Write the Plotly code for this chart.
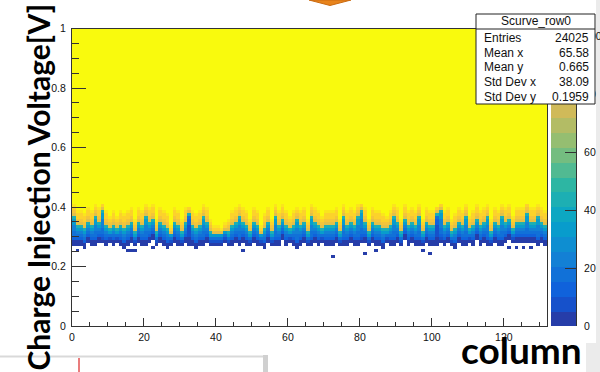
import numpy as np
import plotly.graph_objects as go

W, H = 600, 372

# ---------------------------------------------------------------- data ----
n_columns = 132          # pixel columns on the x axis
n_vbins = 100            # 0.01 V per bin, 0 .. 1 V
v_max = 1.0
full_count = 100         # hits per step once the pixel fires every time
z_max = 102.8
first_profile_bin = 22   # each profile string starts at 0.22 V

# hit counts per character of a profile ('.' = no hits)
count_of = {'a': 3, 'b': 8, 'c': 13, 'd': 18, 'e': 25, 'f': 33, 'g': 42,
            'h': 52, 'i': 62, 'j': 78, 'k': 86, 'l': 91, 'm': 96, 'Y': 100}

# s-curve transition per column, bins 0.22 V .. 0.40 V (above: full_count)
column_profiles = [
    ".....aacddeeffgjklm", "...a.aacdefgjkllmYY", ".....aacdefgjkllmYY", "....aacdefgjkllmYYY",
    "......aacdefgjkllmY", ".....aacdefgjkllmYY", ".....aacddeeffgjklm", "......aacdefgjkllmY",
    "......abcddeeeffgjl", ".....aacdefgjkllmYY", "......abdfgjklmYYYY", ".....aacdefgjkllmYY",
    "......abdfgjklmYYYY", ".....aacdefgjkllmYY", "....aacdefgjkllmYYY", "...a.aacdefgjkllmYY",
    "...a..aacdefgjkllmY", "...a.abdfgjklmYYYYY", "......aacdefgjkllmY", ".....aacdefgjkllmYY",
    ".....aacddeeffgjklm", "......aacdefgjkllmY", "....a..aacdefgjkllm", ".....abdfgjklmYYYYY",
    "......aacdefgjkllmY", ".....aacdefgjkllmYY", "....aacdefgjkllmYYY", ".....abdfjlmYYYYYYY",
    "......aacdefgjkllmY", ".....aacdefgjkllmYY", ".....abdfgjklmYYYYY", "......aacdefgjkllmY",
    ".....aaabbbbccdgjlY", ".....aacdefgjkllmYY", "....aacdefgjkllmYYY", ".....aacdefgjkllmYY",
    ".....aacddeeffgjklm", "......aacdefgjkllmY", ".....abdfgjklmYYYYY", ".....abdfjlmYYYYYYY",
    ".....abdfjlmYYYYYYY", ".....abdfjmYYYYYYYY", "......abdfjlmYYYYYY", ".....abdfgjklmYYYYY",
    ".....aacdefgjkllmYY", "......aacdefgjkllmY", ".....aacddeeffgjklm", "...a..aacdefgjkllmY",
    ".....aacdefgjkllmYY", ".....abdfgjklmYYYYY", "......aacdefgjkllmY", ".....aacdefgjkllmYY",
    ".....abdfjlmYYYYYYY", "....aacdefgjkllmYYY", "......aacdefgjkllmY", ".....abdfgjklmYYYYY",
    ".....aacddeeffgjklm", ".....aacdefgjkllmYY", ".......aacdefgjkllm", ".....aacdefgjkllmYY",
    "......abdfgjklmYYYY", ".....aacdefgjkllmYY", "....aacddeeffgjklmY", ".....aacdefgjkllmYY",
    "......aacdefgjkllmY", ".....abdfgjklmYYYYY", ".....aacddeeffgjklm", "......aacdefgjkllmY",
    ".....aacdefgjkllmYY", "......abdfgjklmYYYY", ".....aacdefgjkllmYY", ".....aacdefgjkllmYY",
    ".a...aacdefgjkllmYY", "......aacdefgjkllmY", ".....abdfgjklmYYYYY", ".....aacddeeffgjklm",
    ".....aacdefgjkllmYY", "......aacdefgjkllmY", ".....aacdefgjkllmYY", ".....aacddeeffgjklm",
    "......abcddeeeffgjl", "..a...aacdefgjkllmY", ".....abdfgjklmYYYYY", "......aacdefgjkllmY",
    "...a.aacdefgjkllmYY", ".....aacdefgjkllmYY", "....aacdefgjkllmYYY", "......abdfgjklmYYYY",
    ".....aacdefgjkllmYY", ".....aacddeeffgjklm", "......aacdefgjkllmY", ".....abdfgjklmYYYYY",
    ".......aacdefgjkllm", ".....aacdefgjkllmYY", "......aacdefgjkllmY", ".....aacdefgjkllmYY",
    ".....aacddeeffgjklm", "...a.abdfgjklmYYYYY", "......aacdefgjkllmY", "..a..aacdefgjkllmYY",
    ".....aacdefgjkllmYY", ".....aaabbbbccdgjlY", "......abcddeeeffgjl", ".....aacdefgjkllmYY",
    "......aacdefgjkllmY", ".....abdfgjklmYYYYY", "....aacdefgjkllmYYY", "......aacdefgjkllmY",
    ".....aacdefgjkllmYY", ".....aacddeeffgjklm", "......abdfgjklmYYYY", ".....aacdefgjkllmYY",
    ".......aacdefgjkllm", ".....aacdefgjkllmYY", "......aacdefgjkllmY", ".....aacddeeffgjklm",
    ".....abdfgjklmYYYYY", "......aacdefgjkllmY", ".....aacdefgjkllmYY", ".....aacddeeffgjklm",
    "......aacdefgjkllmY", "....a..aacdefgjkllm", "......abdfgjklmYYYY", "....a.aacdefgjkllmY",
    "......aacdefgjkllmY", "....a.aacdefgjkllmY", "......aacddeeffgjkl", "....a.aacdefgjkllmY",
    "......aacdefgjkllmY", ".....aacddeeffgjklm", "......aacdefgjkllmY", ".....aacdefgjkllmYY",
]

x_ticks = [0, 20, 40, 60, 80, 100, 120]
y_ticks = [0, 0.2, 0.4, 0.6, 0.8, 1.0]
z_ticks = [0, 20, 40, 60, 80, 100]

stats_title = "Scurve_row0"
stats_labels = ["Entries", "Mean x", "Mean y", "Std Dev x", "Std Dev y"]
stats_values = ["24025", "65.58", "0.665", "38.09", "0.1959"]

y_title = "Charge Injection Voltage[V]"
x_title = "column"

# ------------------------------------------------------- histogram grid ---
z = np.full((n_vbins, n_columns), np.nan)
for col, prof in enumerate(column_profiles):
    for i, ch in enumerate(prof):
        if ch in count_of:
            z[first_profile_bin + i, col] = count_of[ch]
    z[first_profile_bin + len(prof):, col] = full_count

x_centers = np.arange(n_columns) + 0.5
y_centers = (np.arange(n_vbins) + 0.5) * v_max / n_vbins

# ------------------------------------------- ROOT "bird" palette, 20 levels
bird_stops = [0.0, 0.125, 0.25, 0.375, 0.5, 0.625, 0.75, 0.875, 1.0]
bird_r = [0.2082, 0.0592, 0.0780, 0.0232, 0.1802, 0.5301, 0.8186, 0.9956, 0.9764]
bird_g = [0.1664, 0.3599, 0.5041, 0.6419, 0.7178, 0.7492, 0.7328, 0.7862, 0.9832]
bird_b = [0.5293, 0.8684, 0.8385, 0.7914, 0.6425, 0.4662, 0.3499, 0.1968, 0.0539]
n_levels = 20
band_colors = []
for i in range(n_levels):
    f = min((i + 0.99) / n_levels, 1.0)
    r, g, b = (np.interp(f, bird_stops, c) for c in (bird_r, bird_g, bird_b))
    band_colors.append(f"rgb({int(r*255)},{int(g*255)},{int(b*255)})")
colorscale = []
for i, c in enumerate(band_colors):
    colorscale.append([i / n_levels, c])
    colorscale.append([(i + 1) / n_levels, c])

band_width = z_max / n_levels
band_centers = [(i + 0.5) * band_width for i in range(n_levels)]


def fx(px):
    return px / W


def fy(py):
    return 1 - py / H


plot_x = [fx(72), fx(547)]
plot_y = [fy(326), fy(28.5)]
tick_font = dict(family="Liberation Sans", size=10.5, color="#111")
axis_col = "#333"

fig = go.Figure()
fig.add_trace(go.Heatmap(
    x=x_centers, y=y_centers, z=z,
    colorscale=colorscale, zmin=0, zmax=z_max, showscale=False,
    hoverongaps=False,
))
# palette strip on its own axes
fig.add_trace(go.Heatmap(
    x=[0], y=band_centers, z=[[v] for v in band_centers],
    colorscale=colorscale, zmin=0, zmax=z_max, showscale=False,
    xaxis="x2", yaxis="y2",
))

fig.update_layout(
    width=W, height=H, autosize=False,
    margin=dict(l=0, r=0, t=0, b=0),
    paper_bgcolor="white", plot_bgcolor="white",
    showlegend=False,
    xaxis=dict(
        domain=plot_x, range=[0, n_columns], tickmode="array", tickvals=x_ticks,
        ticks="inside", ticklen=8, tickwidth=1, tickcolor=axis_col,
        minor=dict(dtick=5, tick0=0, ticks="inside", ticklen=4, tickcolor=axis_col),
        showline=True, linecolor=axis_col, linewidth=1, mirror=True,
        showgrid=False, zeroline=False, tickfont=tick_font,
        ticklabelstandoff=1, automargin=False,
    ),
    yaxis=dict(
        domain=plot_y, range=[0, v_max], tickmode="array", tickvals=y_ticks,
        ticktext=["0", "0.2", "0.4", "0.6", "0.8", "1"],
        ticks="inside", ticklen=14, tickwidth=1, tickcolor=axis_col,
        minor=dict(dtick=0.05, tick0=0, ticks="inside", ticklen=7, tickcolor=axis_col),
        showline=True, linecolor=axis_col, linewidth=1, mirror=True,
        showgrid=False, zeroline=False, tickfont=tick_font,
        ticklabelstandoff=3, automargin=False,
    ),
    xaxis2=dict(
        domain=[fx(551), fx(576)], anchor="y2", range=[-0.5, 0.5],
        visible=False, fixedrange=True,
    ),
    yaxis2=dict(
        domain=plot_y, anchor="x2", side="right", range=[0, z_max],
        tickmode="array", tickvals=z_ticks,
        ticks="inside", ticklen=11, tickwidth=1, tickcolor=axis_col,
        showline=True, linecolor=axis_col, linewidth=1,
        showgrid=False, zeroline=False, tickfont=tick_font,
        ticklabelstandoff=5, automargin=False,
    ),
)

shapes = [
    # slide edges around the canvas
    dict(type="rect", xref="paper", yref="paper", x0=fx(596), x1=fx(600), y0=fy(372), y1=fy(0),
         fillcolor="#ebebeb", line=dict(width=0), layer="below"),
    dict(type="rect", xref="paper", yref="paper", x0=fx(586), x1=fx(600), y0=fy(372), y1=fy(343),
         fillcolor="#ebebeb", line=dict(width=0), layer="below"),
    # arrow tip above the plot
    dict(type="path", xref="paper", yref="paper",
         path=f"M {fx(309)},{fy(0)} L {fx(351)},{fy(0)} L {fx(330)},{fy(5.5)} Z",
         fillcolor="#e8841c", line=dict(color="#c96a12", width=1), layer="above"),
    # panel peeking in at the bottom
    dict(type="line", xref="paper", yref="paper", x0=0, x1=fx(263), y0=fy(356.5), y1=fy(356.5),
         line=dict(color="#d9d9d9", width=2), layer="above"),
    dict(type="rect", xref="paper", yref="paper", x0=fx(263), x1=fx(268), y0=fy(372), y1=fy(355),
         fillcolor="#d0d0d0", line=dict(width=0), layer="above"),
    dict(type="line", xref="paper", yref="paper", x0=fx(79), x1=fx(79), y0=fy(372), y1=fy(358),
         line=dict(color="#e25050", width=1.5), layer="above"),
    # statistics box
    dict(type="rect", xref="paper", yref="paper", x0=fx(476), x1=fx(595), y0=fy(104), y1=fy(14),
         fillcolor="white", line=dict(color="#222", width=1), layer="above"),
    dict(type="line", xref="paper", yref="paper", x0=fx(476), x1=fx(595), y0=fy(29), y1=fy(29),
         line=dict(color="#222", width=1), layer="above"),
]
fig.update_layout(shapes=shapes)

stats_font = dict(family="Liberation Sans", size=12, color="#111")
ann = [dict(x=fx(535.5), y=fy(21.5), text=stats_title, xanchor="center", yanchor="middle",
            font=stats_font)]
row_y = [38, 53, 67.5, 82, 97]
for lab, val, ry in zip(stats_labels, stats_values, row_y):
    ann.append(dict(x=fx(482), y=fy(ry), text=lab, xanchor="left", yanchor="middle", font=stats_font))
    ann.append(dict(x=fx(591), y=fy(ry), text=val, xanchor="right", yanchor="middle", font=stats_font))

ann.append(dict(x=fx(37), y=fy(2), text=y_title, textangle=-90, xanchor="center", yanchor="top",
                font=dict(family="Lato", size=30, weight="bold", color="#000")))
ann.append(dict(x=fx(459), y=fy(349), text=x_title, xanchor="left", yanchor="middle",
                font=dict(family="Lato", size=37, weight="bold", color="#000")))
for a in ann:
    a.update(xref="paper", yref="paper", showarrow=False)
fig.update_layout(annotations=ann)

fig.write_html("out.html")
